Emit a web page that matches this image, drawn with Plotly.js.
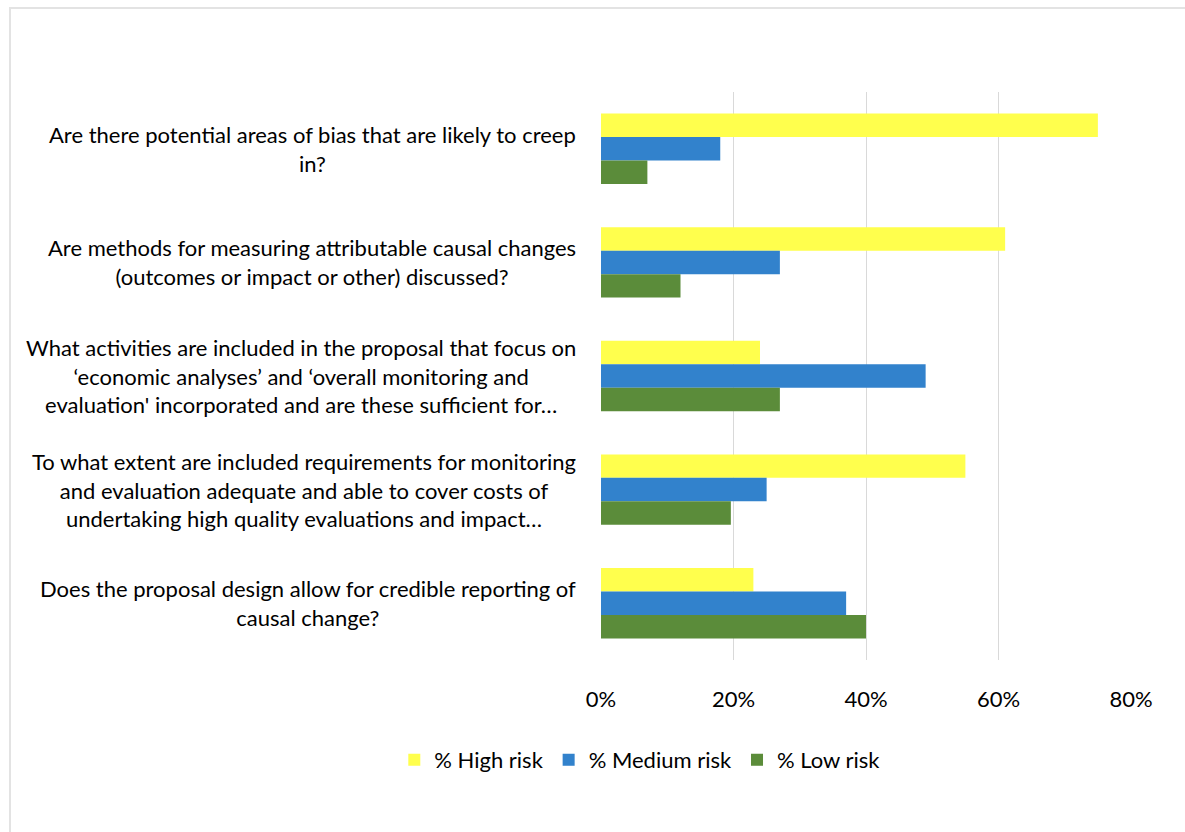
<!DOCTYPE html>
<html>
<head>
<meta charset="utf-8">
<script src="https://cdn.plot.ly/plotly-3.0.1.min.js"></script>
<style>
  html, body { margin: 0; padding: 0; background: #fff; overflow: hidden; }
  #frame { position: absolute; left: 9px; top: 7px; width: 1200px; height: 850px; border: 2px solid #e3e3e3; box-sizing: border-box; }
  #chart { position: absolute; left: 0; top: 0; width: 1185px; height: 832px; }
</style>
</head>
<body>
<div id="frame"></div>
<div id="chart"></div>
<script>
const categories = [
  "Are there potential areas of bias that are likely to creep<br>in?",
  "Are methods for measuring attributable causal changes<br>(outcomes or impact or other) discussed?",
  "What activities are included in the proposal that focus on<br>‘economic analyses’ and ‘overall monitoring and<br>evaluation' incorporated and are these sufficient for…",
  "To what extent are included requirements for monitoring<br>and evaluation adequate and able to cover costs of<br>undertaking high quality evaluations and impact…",
  "Does the proposal design allow for credible reporting of<br>causal change?"
];
const seriesNames = ["% High risk", "% Medium risk", "% Low risk"];
const highRisk = [0.75, 0.61, 0.24, 0.55, 0.23];
const mediumRisk = [0.18, 0.27, 0.49, 0.25, 0.37];
const lowRisk = [0.07, 0.12, 0.27, 0.196, 0.40];
const xTicks = [0, 0.2, 0.4, 0.6, 0.8];
const xTickLabels = ["0%", "20%", "40%", "60%", "80%"];

const colors = ["#ffff4d", "#3282cc", "#5b8c3a"];
const values = [highRisk, mediumRisk, lowRisk];
const FONT = "Lato, 'Noto Sans', sans-serif";

const traces = values.map((v, i) => ({
  type: "bar",
  orientation: "h",
  name: seriesNames[i],
  x: v,
  y: categories,
  marker: { color: colors[i], line: { width: 0 } },
  hoverinfo: "x+name"
}));

const annotations = categories.map(c => ({
  xref: "paper", yref: "y",
  x: -0.043, y: c,
  xanchor: "right", yanchor: "middle",
  align: "center",
  text: c,
  showarrow: false,
  font: { family: FONT, size: 22, color: "#000" }
}));

const layout = {
  width: 1185, height: 832,
  margin: { l: 601, r: 54, t: 92, b: 172 },
  paper_bgcolor: "rgba(0,0,0,0)",
  plot_bgcolor: "rgba(0,0,0,0)",
  barmode: "group",
  bargap: 0.38,
  bargroupgap: 0,
  font: { family: FONT, size: 22, color: "#000" },
  xaxis: {
    range: [0, 0.8],
    tickvals: xTicks,
    ticktext: xTickLabels,
    showgrid: true, gridcolor: "#d9d9d9", gridwidth: 1,
    zeroline: false,
    showline: false,
    ticks: "",
    ticklabelstandoff: 24,
    tickfont: { family: FONT, size: 22, color: "#000" }
  },
  yaxis: {
    type: "category",
    autorange: "reversed",
    showticklabels: false,
    showgrid: false, zeroline: false, showline: false, ticks: ""
  },
  showlegend: true,
  legend: {
    orientation: "h",
    x: -0.39, xanchor: "left",
    y: -0.176, yanchor: "middle",
    font: { family: FONT, size: 22, color: "#000" },
    itemwidth: 30,
    traceorder: "normal"
  },
  annotations: annotations
};

Plotly.newPlot("chart", traces, layout, { displayModeBar: false, staticPlot: true });
</script>
</body>
</html>
